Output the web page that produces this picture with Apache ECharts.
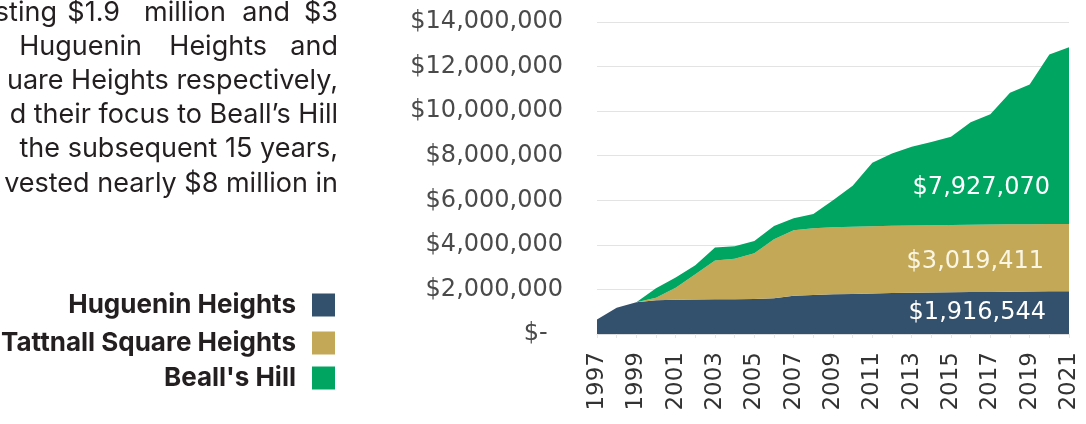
<!DOCTYPE html>
<html>
<head>
<meta charset="utf-8">
<script src="https://cdn.jsdelivr.net/npm/echarts@6/dist/echarts.min.js"></script>
<style>
  html, body { margin: 0; padding: 0; background: #ffffff; }
  #chart { width: 1086px; height: 424px; }
</style>
</head>
<body>
<div id="chart"></div>
<script>
// ---- data ----
const years = ['1997','1998','1999','2000','2001','2002','2003','2004','2005','2006','2007','2008','2009',
               '2010','2011','2012','2013','2014','2015','2016','2017','2018','2019','2020','2021'];
const seriesNames = ['Huguenin Heights', 'Tattnall Square Heights', "Beall's Hill"];
const huguenin = [650000, 1180000, 1430000, 1520000, 1540000, 1550000, 1560000, 1560000, 1570000, 1600000,
                  1720000, 1750000, 1780000, 1800000, 1820000, 1840000, 1850000, 1860000, 1870000, 1880000,
                  1890000, 1900000, 1910000, 1916544, 1916544];
const tattnall = [0, 0, 0, 110000, 540000, 1130000, 1740000, 1820000, 2050000, 2650000,
                  2930000, 3000000, 3010000, 3015000, 3019411, 3019411, 3019411, 3019411, 3019411, 3019411,
                  3019411, 3019411, 3019411, 3019411, 3019411];
const beallsHill = [0, 0, 0, 420000, 450000, 400000, 580000, 560000, 550000, 600000,
                    540000, 630000, 1210000, 1835000, 2840000, 3240000, 3530000, 3740000, 3960000, 4600000,
                    4950000, 5910000, 6270000, 7610000, 7927070];
const endLabels = ['$1,916,544', '$3,019,411', '$7,927,070'];
const yMax = 14000000;
const yStep = 2000000;

const colors = ['#33506d', '#c2a857', '#00a562'];

function money(v) {
  if (v === 0) return '$-  ';
  return '$' + v.toLocaleString('en-US');
}

const chart = echarts.init(document.getElementById('chart'), null, { renderer: 'canvas' });

const paraFont = { fontFamily: 'Inter', fontSize: 27, fill: '#231f20' };
function word(text, right, y) {
  return { type: 'text', x: right, y: y, z: 100,
           style: Object.assign({ text: text, textAlign: 'right', textVerticalAlign: 'middle' }, paraFont) };
}
function bandLabel(text, right, y, fill) {
  return { type: 'text', x: right, y: y, z: 100,
           style: { text: text, textAlign: 'right', textVerticalAlign: 'middle',
                    fontFamily: 'DejaVu Sans', fontSize: 24, fill: fill } };
}

const legendBase = {
  orient: 'vertical', align: 'right', right: 751, itemWidth: 23, itemHeight: 23, padding: 0,
  icon: 'rect', selectedMode: false,
  textStyle: { fontFamily: 'Inter', fontWeight: 'bold', fontSize: 26, color: '#231f20', padding: [0, 11, 0, 0] }
};

chart.setOption({
  animation: false,
  color: colors,
  grid: { left: 597, right: 17, top: 22, bottom: 90, containLabel: false },
  legend: [
    Object.assign({}, legendBase, { top: 292, data: [seriesNames[0]] }),
    Object.assign({}, legendBase, { top: 330, data: [seriesNames[1]] }),
    Object.assign({}, legendBase, { top: 365, data: [seriesNames[2]] })
  ],
  xAxis: {
    type: 'category', data: years, boundaryGap: false,
    axisLine: { lineStyle: { color: '#dcdcdc', width: 1 } },
    axisTick: { show: true, alignWithLabel: true, interval: 0, length: 4, lineStyle: { color: '#e6e6e6' } },
    axisLabel: { interval: 1, rotate: 90, margin: 18, fontFamily: 'DejaVu Sans', fontSize: 23, color: '#333333' }
  },
  yAxis: {
    type: 'value', min: 0, max: yMax, interval: yStep,
    axisLine: { show: false }, axisTick: { show: false },
    splitLine: { lineStyle: { color: '#e3e3e3', width: 1 } },
    axisLabel: { margin: 34, fontFamily: 'DejaVu Sans', fontSize: 24, color: '#4a4a4a', formatter: money }
  },
  series: [
    { name: seriesNames[0], type: 'line', stack: 'total', data: huguenin, symbol: 'none',
      lineStyle: { width: 0 }, areaStyle: { color: colors[0], opacity: 1 } },
    { name: seriesNames[1], type: 'line', stack: 'total', data: tattnall, symbol: 'none',
      lineStyle: { width: 0 }, areaStyle: { color: colors[1], opacity: 1 } },
    { name: seriesNames[2], type: 'line', stack: 'total', data: beallsHill, symbol: 'none',
      lineStyle: { width: 0 }, areaStyle: { color: colors[2], opacity: 1 } }
  ],
  graphic: [
    // paragraph (cut at the left edge, justified)
    word('sting', 57, 13), word('$1.9', 120, 13), word('million', 226, 13), word('and', 290, 13), word('$3', 338, 13),
    word('Huguenin', 142, 47), word('Heights', 267, 47), word('and', 338, 47),
    word('uare Heights respectively,', 338, 81),
    word('d their focus to Beall\u2019s Hill', 338, 115),
    word('the subsequent 15 years,', 338, 149),
    word('vested nearly $8 million in', 338, 184),
    // in-band value labels
    bandLabel(endLabels[0], 1046, 313, '#ffffff'),
    bandLabel(endLabels[1], 1044, 262, '#fbf6e4'),
    bandLabel(endLabels[2], 1050, 188, '#ffffff')
  ]
});
</script>
</body>
</html>
